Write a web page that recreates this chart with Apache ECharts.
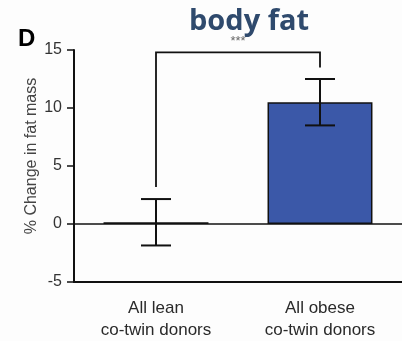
<!DOCTYPE html>
<html>
<head>
<meta charset="utf-8">
<style>
  html, body { margin: 0; padding: 0; background: #fdfdfd; }
  #chart { width: 402px; height: 341px; }
</style>
<script src="https://cdn.jsdelivr.net/npm/echarts@6/dist/echarts.min.js"></script>
</head>
<body>
<div id="chart"></div>
<script>
// Groups and their mean % change in fat mass, with SEM
const categories = ['All lean\nco-twin donors', 'All obese\nco-twin donors'];
const means = [0.15, 10.5];
const errors = [2.0, 2.0];
const barColors = ['#3b58a8', '#3b58a8'];
const yTicks = { min: -5, max: 15, interval: 5 };

// Significance bracket: [from category, to category, top, left leg end, right leg end]
const bracket = [0, 1, 14.8, 3.2, 13.5];
const bracketLabel = '***';

const chart = echarts.init(document.getElementById('chart'));

const errorData = means.map((m, i) => [i, m - errors[i], m + errors[i]]);

chart.setOption({
  backgroundColor: '#fdfdfd',
  animation: false,
  title: [
    {
      text: 'body fat',
      left: 244, top: 2, textAlign: 'center',
      textStyle: { fontFamily: 'Open Sans', fontWeight: 'bold', fontSize: 29, color: '#2f4a6d' }
    },
    {
      text: 'D',
      left: 13, top: 22,
      textStyle: { fontFamily: 'Liberation Sans', fontWeight: 'bold', fontSize: 24, color: '#000' }
    }
  ],
  grid: { left: 74, top: 50, width: 332, bottom: 57 },
  xAxis: {
    type: 'category',
    data: categories,
    axisLine: { onZero: false, lineStyle: { color: '#111', width: 2 } },
    axisTick: { alignWithLabel: true, length: 8, lineStyle: { color: '#111', width: 1.5 } },
    axisLabel: {
      margin: 15, lineHeight: 22,
      fontFamily: 'Liberation Sans', fontSize: 17, color: '#2a2a2a'
    }
  },
  yAxis: {
    type: 'value',
    min: yTicks.min, max: yTicks.max, interval: yTicks.interval,
    name: '% Change in fat mass',
    nameLocation: 'middle', nameGap: 34,
    nameMoveOverlap: false,
    nameTextStyle: {
      fontFamily: 'Liberation Sans', fontSize: 16, color: '#444',
      padding: [0, 0, 0, 20]
    },
    axisLine: { show: true, onZero: false, lineStyle: { color: '#111', width: 2 } },
    axisTick: { show: true, length: 7, lineStyle: { color: '#111', width: 1.5 } },
    axisLabel: { margin: 12, fontFamily: 'Liberation Sans', fontSize: 16, color: '#333' },
    splitLine: { show: false }
  },
  series: [
    {
      type: 'bar',
      barWidth: '64%',
      data: means.map((v, i) => ({ value: v, itemStyle: { color: barColors[i] } })),
      itemStyle: { borderColor: '#111', borderWidth: 1.5 },
      markLine: {
        silent: true, symbol: 'none', label: { show: false },
        lineStyle: { color: '#111', width: 1.5, type: 'solid' },
        data: [{ yAxis: 0 }]
      },
      z: 2
    },
    {
      // error bars
      type: 'custom',
      data: errorData,
      z: 5,
      renderItem: function (params, api) {
        const x = api.value(0);
        const lo = api.coord([x, api.value(1)]);
        const hi = api.coord([x, api.value(2)]);
        const half = 15;
        const style = { stroke: '#111', lineWidth: 2 };
        return {
          type: 'group',
          children: [
            { type: 'line', shape: { x1: hi[0], y1: hi[1], x2: lo[0], y2: lo[1] }, style },
            { type: 'line', shape: { x1: hi[0] - half, y1: hi[1], x2: hi[0] + half, y2: hi[1] }, style },
            { type: 'line', shape: { x1: lo[0] - half, y1: lo[1], x2: lo[0] + half, y2: lo[1] }, style }
          ]
        };
      }
    },
    {
      // significance bracket
      type: 'custom',
      data: [bracket],
      z: 5,
      renderItem: function (params, api) {
        const a = api.coord([api.value(0), api.value(2)]);
        const b = api.coord([api.value(1), api.value(2)]);
        const aEnd = api.coord([api.value(0), api.value(3)]);
        const bEnd = api.coord([api.value(1), api.value(4)]);
        return {
          type: 'group',
          children: [
            {
              type: 'polyline',
              shape: { points: [[aEnd[0], aEnd[1]], a, b, [bEnd[0], bEnd[1]]] },
              style: { stroke: '#111', lineWidth: 1.8, fill: null }
            },
            {
              type: 'text',
              x: (a[0] + b[0]) / 2, y: a[1] - 4,
              style: {
                text: bracketLabel, align: 'center', verticalAlign: 'bottom',
                font: '13px "Liberation Sans"', fill: '#666'
              }
            }
          ]
        };
      }
    }
  ]
});
</script>
</body>
</html>
